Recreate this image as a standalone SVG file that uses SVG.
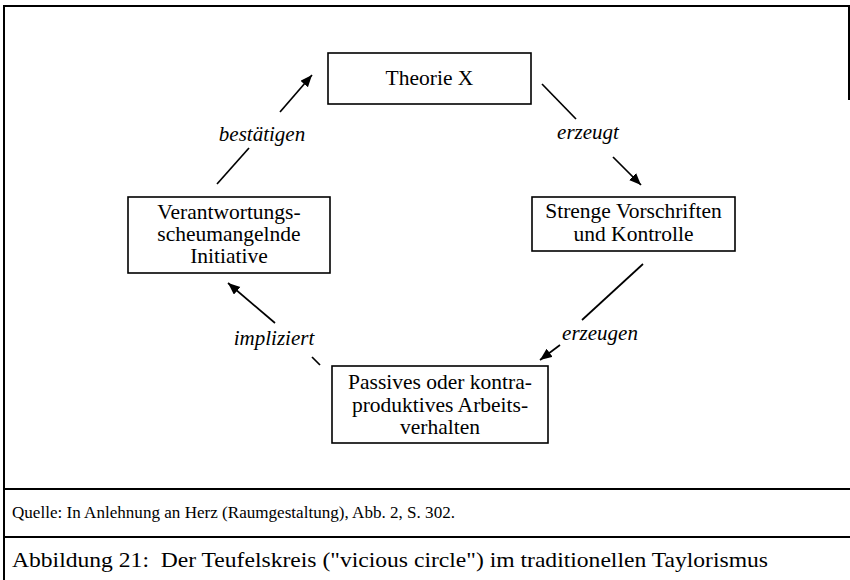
<svg xmlns="http://www.w3.org/2000/svg" width="850" height="580" viewBox="0 0 850 580">
<style>
.box{fill:#fff;stroke:#000;stroke-width:1.6}
.t{font-family:"Liberation Serif","Times New Roman",serif;font-size:21.5px;fill:#000;text-anchor:middle}
.lab{font-family:"Liberation Serif","Times New Roman",serif;font-size:21px;font-style:italic;fill:#000;text-anchor:middle}
.cap{font-family:"Liberation Serif","Times New Roman",serif;fill:#000}
.c{stroke:#000;stroke-width:1.7;fill:none}
.frame{stroke:#000;stroke-width:2;fill:none}
</style>
<defs>
<marker id="ah" markerUnits="userSpaceOnUse" markerWidth="14" markerHeight="12" refX="12" refY="5" orient="auto">
<path d="M0,0 L12,5 L0,10 Z" fill="#000"/>
</marker>
</defs>
<rect width="850" height="580" fill="#fff"/>
<g id="frame">
<path class="frame" d="M4,580 V6 H849 V100"/>
<line class="frame" x1="4" y1="489" x2="850" y2="489"/>
<line class="frame" x1="4" y1="537" x2="850" y2="537"/>
</g>
<g id="connectors">
<line class="c" x1="217" y1="184" x2="249" y2="148"/>
<line class="c" x1="280" y1="112" x2="312" y2="75" marker-end="url(#ah)"/>
<line class="c" x1="542" y1="84" x2="576" y2="119"/>
<line class="c" x1="613" y1="157" x2="641" y2="185" marker-end="url(#ah)"/>
<line class="c" x1="643" y1="264" x2="582" y2="320"/>
<line class="c" x1="560" y1="345" x2="540" y2="360" marker-end="url(#ah)"/>
<line class="c" x1="320" y1="365" x2="312" y2="357"/>
<line class="c" x1="275" y1="323" x2="228" y2="283" marker-end="url(#ah)"/>
</g>
<g id="labels">
<text class="lab" x="262" y="141">bestätigen</text>
<text class="lab" x="588" y="139">erzeugt</text>
<text class="lab" x="600" y="340">erzeugen</text>
<text class="lab" x="274" y="345">impliziert</text>
</g>
<g id="theorie">
<rect class="box" x="328" y="53" width="203" height="51"/>
<text class="t" x="429.5" y="85">Theorie X</text>
</g>
<g id="strenge">
<rect class="box" x="532" y="197" width="203" height="54"/>
<text class="t" x="633.5" y="218">Strenge Vorschriften</text>
<text class="t" x="633.5" y="241">und Kontrolle</text>
</g>
<g id="passives">
<rect class="box" x="332" y="366" width="216" height="77"/>
<text class="t" x="440" y="389">Passives oder kontra-</text>
<text class="t" x="440" y="411.5">produktives Arbeits-</text>
<text class="t" x="440" y="434">verhalten</text>
</g>
<g id="verantwortung">
<rect class="box" x="128" y="197" width="202" height="76"/>
<text class="t" x="229" y="219">Verantwortungs-</text>
<text class="t" x="229" y="241">scheumangelnde</text>
<text class="t" x="229" y="263">Initiative</text>
</g>
<g id="captions">
<text class="cap" x="12" y="518" font-size="16.5" textLength="443" lengthAdjust="spacingAndGlyphs">Quelle: In Anlehnung an Herz (Raumgestaltung), Abb. 2, S. 302.</text>
<text class="cap" x="12" y="567" font-size="22" textLength="756" lengthAdjust="spacingAndGlyphs" xml:space="preserve">Abbildung 21:  Der Teufelskreis ("vicious circle") im traditionellen Taylorismus</text>
</g>
</svg>
